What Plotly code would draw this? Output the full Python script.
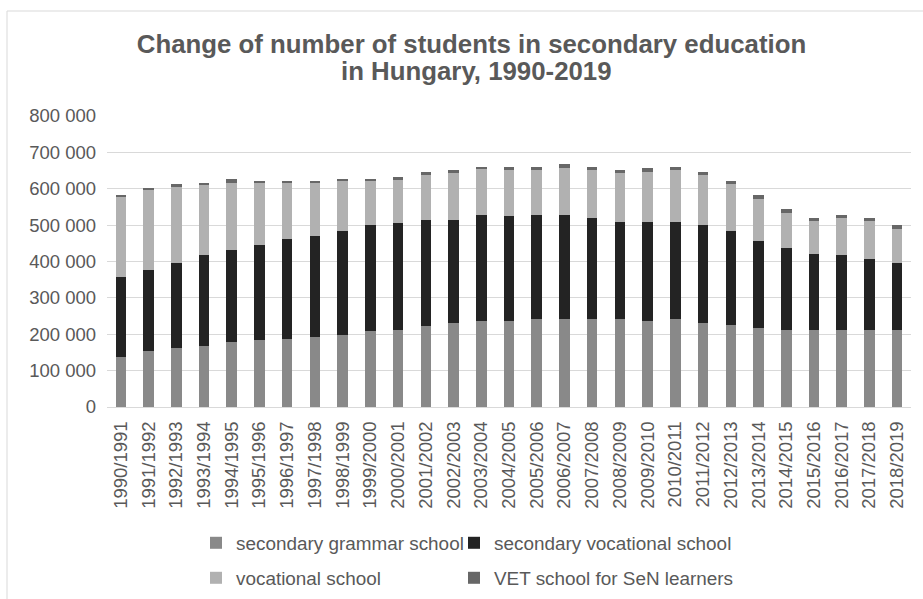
import plotly.graph_objects as go

# School years on the category axis
years = [
    "1990/1991", "1991/1992", "1992/1993", "1993/1994", "1994/1995",
    "1995/1996", "1996/1997", "1997/1998", "1998/1999", "1999/2000",
    "2000/2001", "2001/2002", "2002/2003", "2003/2004", "2004/2005",
    "2005/2006", "2006/2007", "2007/2008", "2008/2009", "2009/2010",
    "2010/2011", "2011/2012", "2012/2013", "2013/2014", "2014/2015",
    "2015/2016", "2016/2017", "2017/2018", "2018/2019",
]

# Students per school type
grammar_school = [
    138000, 154000, 163000, 168000, 179000, 183000, 188000, 192000, 197000, 208000,
    212000, 222000, 232000, 236000, 236000, 241000, 241000, 241000, 241000, 236000,
    241000, 231000, 226000, 216000, 212000, 212000, 212000, 212000, 212000,
]
secondary_vocational = [
    220000, 223000, 234000, 249000, 252000, 263000, 273000, 279000, 287000, 291000,
    293000, 293000, 283000, 293000, 288000, 288000, 288000, 278000, 268000, 273000,
    268000, 268000, 258000, 239000, 225000, 210000, 205000, 195000, 185000,
]
vocational_school = [
    218000, 221000, 210000, 196000, 186000, 170000, 155000, 145000, 138000, 123000,
    121000, 122000, 127000, 127000, 127000, 122000, 127000, 132000, 133000, 137000,
    142000, 138000, 129000, 118000, 97000, 92000, 102000, 103000, 93000,
]
vet_sen = [
    6000, 4000, 5000, 4000, 9000, 6000, 6000, 6000, 6000, 5000,
    5000, 9000, 9000, 5000, 10000, 10000, 11000, 10000, 9000, 10000,
    10000, 9000, 9000, 9000, 9000, 5000, 9000, 9000, 9000,
]

y_tick_values = [0, 100000, 200000, 300000, 400000, 500000, 600000, 700000, 800000]
y_tick_labels = ["0", "100 000", "200 000", "300 000", "400 000",
                 "500 000", "600 000", "700 000", "800 000"]

title_line1 = "Change of number of students in secondary education"
title_line2 = "in Hungary, 1990-2019"

FONT = "Liberation Sans, Arial, sans-serif"
TEXT = "#595959"
GRID = "#d9d9d9"

W, H = 923, 599
ML, MR, MT, MB = 107, 12, 116, 192
PW, PH = W - ML - MR, H - MT - MB

# name, values, colour, legend id, legend cell (left px, row centre px)
series = [
    ("secondary grammar school", grammar_school, "#898989", "legend", (196, 543)),
    ("secondary vocational school", secondary_vocational, "#232323", "legend2", (454, 543)),
    ("vocational school", vocational_school, "#b1b1b1", "legend3", (196, 578)),
    ("VET school for SeN learners", vet_sen, "#676767", "legend4", (454, 578)),
]

fig = go.Figure()
for name, vals, color, leg, _ in series:
    fig.add_trace(go.Bar(
        x=years, y=vals, name=name, marker=dict(color=color, line=dict(width=0)),
        legend=leg,
    ))


def px_x(px):
    return (px - ML) / PW


def px_y(py):
    return (H - MB - py) / PH


# outer chart frame
fig.add_shape(type="rect", xref="paper", yref="paper",
              x0=px_x(7), x1=px_x(W + 20), y0=px_y(H + 20), y1=px_y(11),
              line=dict(color=GRID, width=1), fillcolor="rgba(0,0,0,0)", layer="below")

# second title line
fig.add_annotation(
    text="<b>" + title_line2 + "</b>", xref="paper", yref="paper",
    x=px_x(476), y=px_y(71), xanchor="center", yanchor="middle", showarrow=False,
    font=dict(family=FONT, size=25.8, color=TEXT),
)

legend_layouts = {}
for _, _, _, leg, (lx, ly) in series:
    legend_layouts[leg] = dict(
        orientation="h", xref="container", yref="container",
        x=lx / W, y=1 - ly / H, xanchor="left", yanchor="middle",
        font=dict(family=FONT, size=18.9, color=TEXT), bgcolor="rgba(0,0,0,0)",
        itemclick=False, itemdoubleclick=False,
    )

fig.update_layout(
    width=W, height=H,
    margin=dict(l=ML, r=MR, t=MT, b=MB),
    paper_bgcolor="white", plot_bgcolor="white",
    barmode="stack", bargap=0.62,
    font=dict(family=FONT, color=TEXT),
    title=dict(
        text="<b>" + title_line1 + "</b>",
        x=471.5 / W, xanchor="center", xref="container",
        y=1 - 44 / H, yanchor="middle", yref="container",
        font=dict(family=FONT, size=25.8, color=TEXT),
    ),
    xaxis=dict(
        type="category", tickangle=-90, showgrid=False,
        showline=True, linecolor=GRID, linewidth=1,
        ticks="", tickfont=dict(family=FONT, size=18.5, color=TEXT),
        ticklabelstandoff=6,
    ),
    yaxis=dict(
        range=[0, 800000], tickvals=y_tick_values, ticktext=y_tick_labels,
        showgrid=True, gridcolor=GRID, gridwidth=1, zeroline=False,
        ticks="", tickfont=dict(family=FONT, size=18.5, color=TEXT),
        ticklabelstandoff=10,
    ),
    showlegend=True,
    **legend_layouts,
)

fig.write_html("out.html")
